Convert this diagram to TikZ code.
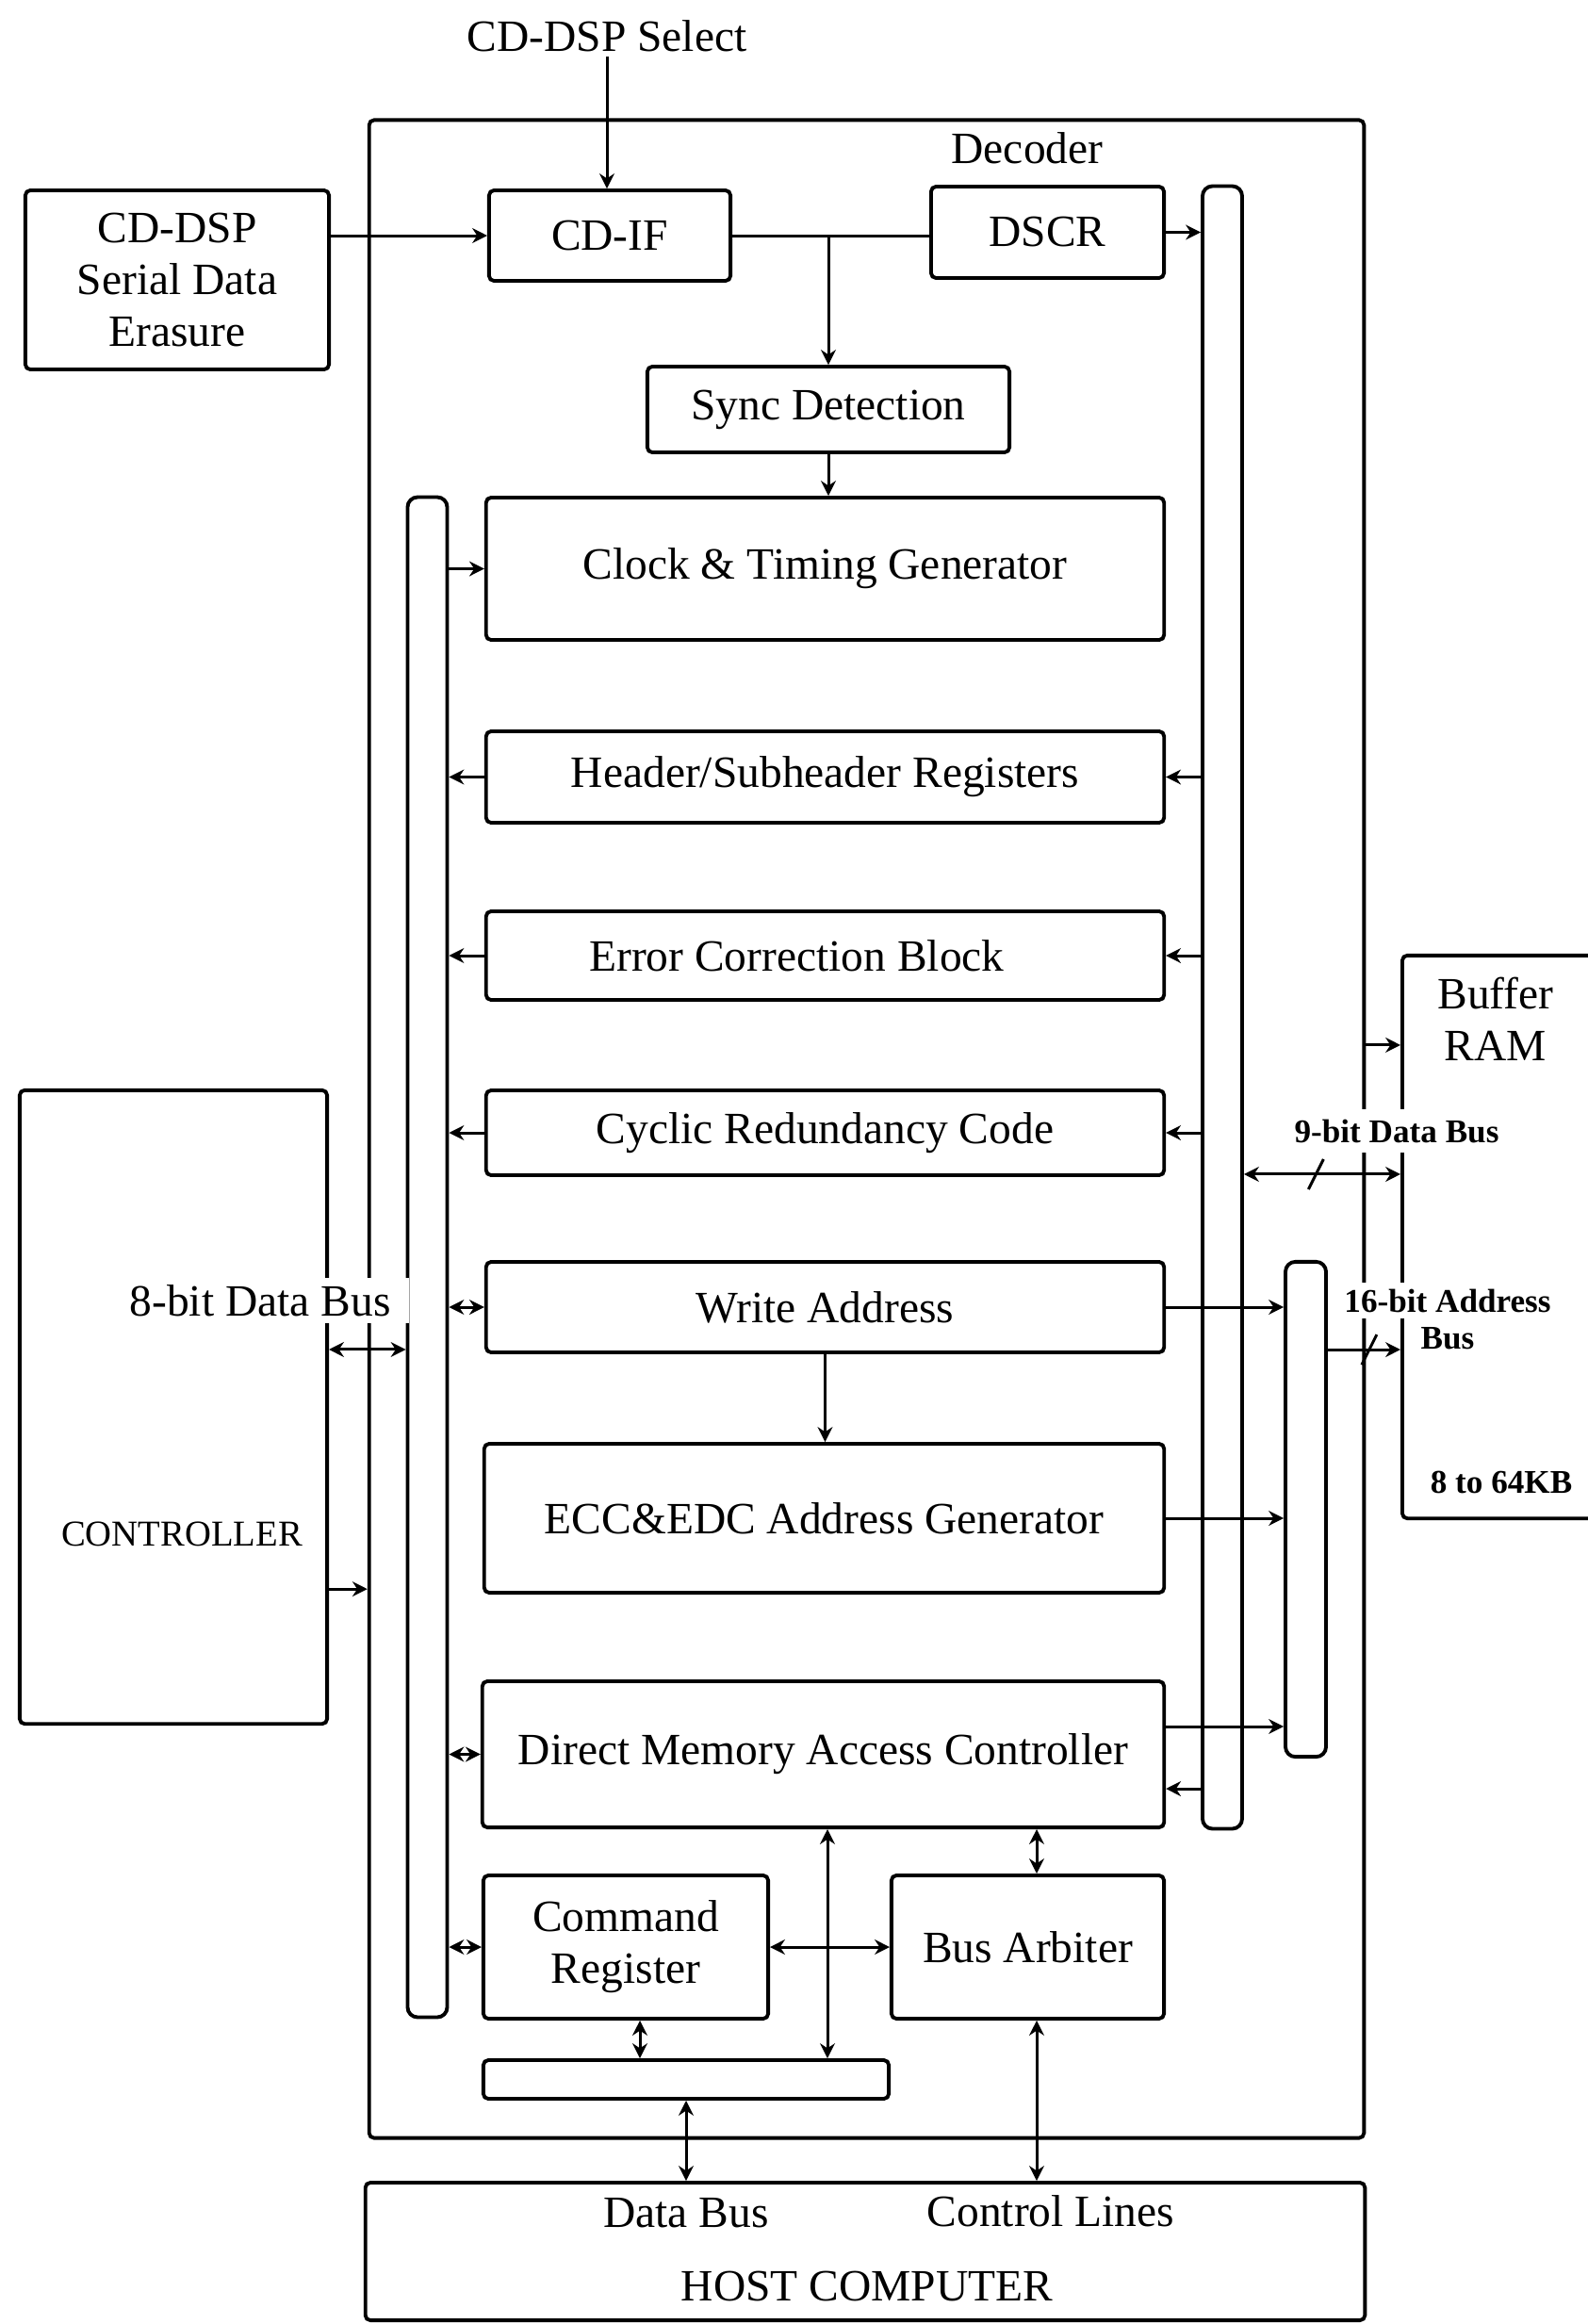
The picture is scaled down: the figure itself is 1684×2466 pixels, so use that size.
\documentclass[tikz,border=0pt]{standalone}
\usepackage{fontspec}
\setmainfont{Liberation Serif}
\usepackage{tikz}
\usetikzlibrary{calc,positioning,arrows.meta}

\begin{document}
\begin{tikzpicture}[x=0.01cm,y=-0.01cm,line width=0.85pt,
  >={Stealth[length=4.5pt,width=4.5pt]},
  blk/.style={draw,line width=1.1pt,rounded corners=1.5pt,inner sep=0pt,align=center,font=\fontsize{13.5}{15.6}\selectfont},
  bus/.style={draw,line width=1.1pt,rounded corners=3pt,inner sep=0pt,minimum width=0.42cm},
  lbl/.style={inner sep=1pt,align=center,font=\fontsize{13.5}{15.6}\selectfont},
  sml/.style={inner xsep=2pt,inner ysep=3pt,align=center,font=\fontsize{10}{12}\selectfont\bfseries}]
\useasboundingbox (0,0) rectangle (1684,2466);
\node[blk,minimum width=10.55cm,minimum height=21.4cm] (dec) at (919.5,1198) {};
\node[lbl] (sel) at (644,38) {CD-DSP Select};
\node[lbl] (declbl) at (1090,157) {Decoder};
\node[blk,minimum width=3.22cm,minimum height=1.9cm] (cddsp) at (188,297) {CD-DSP\\Serial Data\\Erasure};
\node[blk,minimum width=2.56cm,minimum height=0.96cm] (cdif) at (647,250) {CD-IF};
\node[blk,minimum width=2.47cm,minimum height=0.97cm] (dscr) at (1111.5,246.5) {DSCR};
\node[bus,minimum height=17.42cm] (rbus) at (1297,1069) {};
\node[blk,minimum width=3.84cm,minimum height=0.91cm] (sync) at (879,434.5) {Sync Detection};
\node[blk,minimum width=7.19cm,minimum height=1.51cm] (clk) at (875.5,603.5) {Clock \& Timing Generator};
\node[bus,minimum height=16.12cm] (lbus) at (453.5,1334) {};
\node[blk,minimum width=7.19cm,minimum height=0.97cm] (hdr) at (875.5,824.5) {Header/Subheader Registers};
\node[blk,minimum width=7.19cm,minimum height=0.94cm] (ecb) at (875.5,1014) {\hspace*{-0.6cm}Error Correction Block};
\node[blk,minimum width=7.19cm,minimum height=0.90cm] (crc) at (875.5,1202) {Cyclic Redundancy Code};
\node[blk,minimum width=7.19cm,minimum height=0.96cm] (wadr) at (875.5,1387) {Write Address};
\node[blk,minimum width=7.21cm,minimum height=1.58cm] (eccg) at (874.5,1611) {ECC\&EDC Address Generator};
\node[blk,minimum width=7.23cm,minimum height=1.55cm] (dma) at (873.5,1861.5) {Direct Memory Access Controller};
\node[blk,minimum width=3.02cm,minimum height=1.52cm] (cmd) at (664,2066) {Command\\Register};
\node[blk,minimum width=2.89cm,minimum height=1.52cm] (arb) at (1090.5,2066) {Bus Arbiter};
\node[blk,minimum width=4.30cm,minimum height=0.41cm] (bar) at (728,2206.5) {};
\node[blk,minimum width=10.6cm,minimum height=1.46cm] (host) at (918,2389) {};
\node[lbl] (hdata) at (728,2348) {Data Bus};
\node[lbl] (hctl) at (1115,2346) {Control Lines};
\node[lbl] (hname) at (920,2426) {HOST COMPUTER};
\node[blk,minimum width=3.26cm,minimum height=6.72cm] (ctrl) at (184,1493) {};
\node[lbl,font=\fontsize{11}{13}\selectfont] (ctrlname) at (193,1628) {CONTROLLER};
\node[bus,minimum width=0.43cm,minimum height=5.25cm] (abus) at (1385.5,1601.5) {};
\node[blk,minimum width=2.32cm,minimum height=5.97cm] (ram) at (1604,1312.5) {};
\node[lbl] (ramname) at (1587,1081) {Buffer\\RAM};
\node[sml] (ramsize) at (1593,1573) {8 to 64KB};

\coordinate (c8) at ([yshift=6.1mm]ctrl.east);
\coordinate (c9) at ([yshift=-19.3mm]ctrl.east);
\coordinate (dmaA) at ([yshift=2.95mm]dma.east);
\coordinate (dmaB) at ([yshift=-3.65mm]dma.east);
\coordinate (dmaC) at ([xshift=0.45mm]dma.south);
\coordinate (cmdB) at ([xshift=1.5mm]cmd.south);
\coordinate (arbT) at ([xshift=0.95mm]arb.north);
\coordinate (arbB) at ([xshift=0.95mm]arb.south);
\coordinate (rc) at ([yshift=20.35mm]ram.west);
\coordinate (d9) at ([yshift=6.65mm]ram.west);
\coordinate (a16) at ([yshift=-11.95mm]ram.west);

\draw[->] (sel.south) -- (sel.south |- cdif.north);
\draw[->] (cdif.west -| cddsp.east) -- (cdif.west);
\draw (cdif.east) -- (cdif.east -| dscr.west);
\draw[->] (sync.north |- cdif.east) -- (sync.north);
\draw[->] (dscr.east) -- (dscr.east -| rbus.west);
\draw[->] (sync.south) -- (sync.south |- clk.north);
\draw[->] (clk.west -| lbus.east) -- (clk.west);
\draw[->] (hdr.west) -- (hdr.west -| lbus.east);
\draw[->] (ecb.west) -- (ecb.west -| lbus.east);
\draw[->] (crc.west) -- (crc.west -| lbus.east);
\draw[->] (hdr.east -| rbus.west) -- (hdr.east);
\draw[->] (ecb.east -| rbus.west) -- (ecb.east);
\draw[->] (crc.east -| rbus.west) -- (crc.east);
\draw[<->] (wadr.west) -- (wadr.west -| lbus.east);
\draw[->] (wadr.east) -- (wadr.east -| abus.west);
\draw[->] (wadr.south) -- (wadr.south |- eccg.north);
\draw[->] (eccg.east) -- (eccg.east -| abus.west);
\draw[<->] (dma.west) -- (dma.west -| lbus.east);
\draw[->] (dmaA) -- (dmaA -| abus.west);
\draw[->] (dmaB -| rbus.west) -- (dmaB);
\draw[<->] (cmd.west) -- (cmd.west -| lbus.east);
\draw[<->] (cmd.east) -- (arb.west);
\draw[<->] (arbT |- dma.south) -- (arbT);
\draw[<->] (dmaC) -- (dmaC |- bar.north);
\draw[<->] (cmdB) -- (cmdB |- bar.north);
\draw[<->] (bar.south) -- (bar.south |- host.north);
\draw[<->] (arbB) -- (arbB |- host.north);
\draw[<->] (c8) -- (c8 -| lbus.west);
\draw[->] (c9) -- (c9 -| dec.west);
\draw[->] (rc -| dec.east) -- (rc);
\draw[<->] (d9 -| rbus.east) -- (d9);
\draw ($(d9 -| rbus.east)!0.46!(d9)$) +(-0.8mm,-1.6mm) -- +(0.8mm,1.6mm);
\draw[->] (a16 -| abus.east) -- (a16);
\draw ($(a16 -| abus.east)!0.57!(a16)$) +(-0.8mm,-1.6mm) -- +(0.8mm,1.6mm);

\node[lbl,fill=white,inner xsep=0.2cm,inner ysep=2pt] (bus8) at (276,1380) {8-bit Data Bus};
\node[sml,fill=white] (bus9) at (1482,1200) {9-bit Data Bus};
\node[sml,fill=white,inner ysep=2pt] (bus16) at (1536,1380) {16-bit Address};
\node[sml,inner ysep=0pt] (bus16b) at (1536,1420) {Bus};
\end{tikzpicture}
\end{document}
